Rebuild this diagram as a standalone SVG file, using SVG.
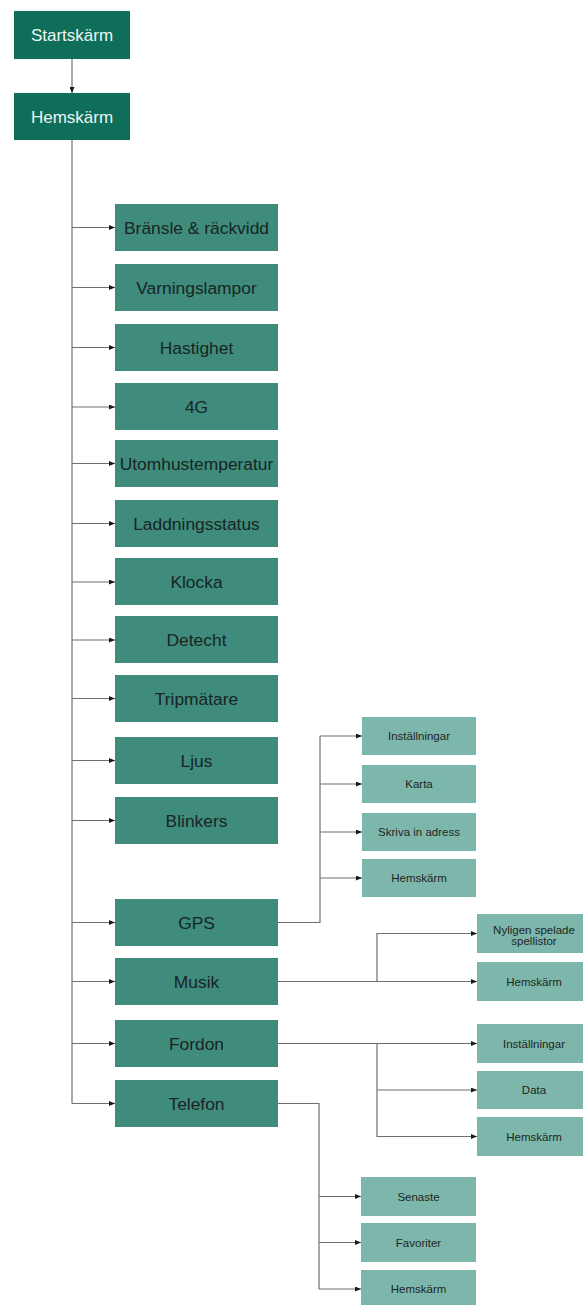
<svg xmlns="http://www.w3.org/2000/svg" width="583" height="1305" viewBox="0 0 583 1305">
<style>
.h{fill:#0f6e5a}
.m{fill:#3f8c7d}
.s{fill:#7db6ab}
.ht{font-family:"Liberation Sans",Arial,sans-serif;font-size:17px;fill:#eef5f2;text-anchor:middle}
.mt{font-family:"Liberation Sans",Arial,sans-serif;font-size:17.4px;fill:#182522;text-anchor:middle}
.st{font-family:"Liberation Sans",Arial,sans-serif;font-size:11.5px;fill:#1e2624;text-anchor:middle}
.c{fill:none;stroke:#6f6f6f;stroke-width:1.2}
</style>
<defs>
<marker id="a" markerUnits="userSpaceOnUse" markerWidth="7" markerHeight="5" refX="6" refY="2.5" orient="auto">
<path d="M0,0 L6,2.5 L0,5 z" fill="#1a1a1a"/>
</marker>
</defs>
<rect width="583" height="1305" fill="#ffffff"/>
<g id="connectors">
<path class="c" d="M72 59 V93" marker-end="url(#a)"/>
<path class="c" d="M72 140 V1103.5"/>
<path class="c" d="M72 227.5 H115" marker-end="url(#a)"/>
<path class="c" d="M72 287.5 H115" marker-end="url(#a)"/>
<path class="c" d="M72 347.5 H115" marker-end="url(#a)"/>
<path class="c" d="M72 407 H115" marker-end="url(#a)"/>
<path class="c" d="M72 463.5 H115" marker-end="url(#a)"/>
<path class="c" d="M72 523.5 H115" marker-end="url(#a)"/>
<path class="c" d="M72 582 H115" marker-end="url(#a)"/>
<path class="c" d="M72 640 H115" marker-end="url(#a)"/>
<path class="c" d="M72 698.5 H115" marker-end="url(#a)"/>
<path class="c" d="M72 760.5 H115" marker-end="url(#a)"/>
<path class="c" d="M72 820.5 H115" marker-end="url(#a)"/>
<path class="c" d="M72 922.5 H115" marker-end="url(#a)"/>
<path class="c" d="M72 981.5 H115" marker-end="url(#a)"/>
<path class="c" d="M72 1043.5 H115" marker-end="url(#a)"/>
<path class="c" d="M72 1103.5 H115" marker-end="url(#a)"/>
<path class="c" d="M278 922.5 H320 V736"/>
<path class="c" d="M320 736 H362" marker-end="url(#a)"/>
<path class="c" d="M320 784 H362" marker-end="url(#a)"/>
<path class="c" d="M320 832 H362" marker-end="url(#a)"/>
<path class="c" d="M320 878 H362" marker-end="url(#a)"/>
<path class="c" d="M278 981.5 H477" marker-end="url(#a)"/>
<path class="c" d="M377 981.5 V933.5 H477" marker-end="url(#a)"/>
<path class="c" d="M278 1043.5 H477" marker-end="url(#a)"/>
<path class="c" d="M377 1043.5 V1136.5 H477" marker-end="url(#a)"/>
<path class="c" d="M377 1090 H477" marker-end="url(#a)"/>
<path class="c" d="M278 1103.5 H319 V1289"/>
<path class="c" d="M319 1196.5 H361" marker-end="url(#a)"/>
<path class="c" d="M319 1242.5 H361" marker-end="url(#a)"/>
<path class="c" d="M319 1289 H361" marker-end="url(#a)"/>
</g>
<g id="startskarm"><rect class="h" x="14" y="11" width="116" height="48"/><text class="ht" x="72" y="41">Startskärm</text></g>
<g id="hemskarm"><rect class="h" x="14" y="93" width="116" height="47"/><text class="ht" x="72" y="122.5">Hemskärm</text></g>
<g id="bransle"><rect class="m" x="115" y="204" width="163" height="47"/><text class="mt" x="196.5" y="233.5">Bränsle &amp; räckvidd</text></g>
<g id="varningslampor"><rect class="m" x="115" y="264" width="163" height="47"/><text class="mt" x="196.5" y="293.5">Varningslampor</text></g>
<g id="hastighet"><rect class="m" x="115" y="324" width="163" height="47"/><text class="mt" x="196.5" y="353.5">Hastighet</text></g>
<g id="fourg"><rect class="m" x="115" y="383" width="163" height="47"/><text class="mt" x="196.5" y="412.5">4G</text></g>
<g id="utomhus"><rect class="m" x="115" y="440" width="163" height="47"/><text class="mt" x="196.5" y="469.5">Utomhustemperatur</text></g>
<g id="laddning"><rect class="m" x="115" y="500" width="163" height="47"/><text class="mt" x="196.5" y="529.5">Laddningsstatus</text></g>
<g id="klocka"><rect class="m" x="115" y="558" width="163" height="47"/><text class="mt" x="196.5" y="587.5">Klocka</text></g>
<g id="detecht"><rect class="m" x="115" y="616" width="163" height="47"/><text class="mt" x="196.5" y="645.5">Detecht</text></g>
<g id="tripmatare"><rect class="m" x="115" y="675" width="163" height="47"/><text class="mt" x="196.5" y="704.5">Tripmätare</text></g>
<g id="ljus"><rect class="m" x="115" y="737" width="163" height="47"/><text class="mt" x="196.5" y="766.5">Ljus</text></g>
<g id="blinkers"><rect class="m" x="115" y="797" width="163" height="47"/><text class="mt" x="196.5" y="826.5">Blinkers</text></g>
<g id="gps"><rect class="m" x="115" y="899" width="163" height="47"/><text class="mt" x="196.5" y="928.5">GPS</text></g>
<g id="musik"><rect class="m" x="115" y="958" width="163" height="47"/><text class="mt" x="196.5" y="987.5">Musik</text></g>
<g id="fordon"><rect class="m" x="115" y="1020" width="163" height="47"/><text class="mt" x="196.5" y="1049.5">Fordon</text></g>
<g id="telefon"><rect class="m" x="115" y="1080" width="163" height="47"/><text class="mt" x="196.5" y="1109.5">Telefon</text></g>
<g id="gps-installningar"><rect class="s" x="362" y="717" width="114" height="38"/><text class="st" x="419" y="740">Inställningar</text></g>
<g id="gps-karta"><rect class="s" x="362" y="765" width="114" height="38"/><text class="st" x="419" y="788">Karta</text></g>
<g id="gps-adress"><rect class="s" x="362" y="813" width="114" height="38"/><text class="st" x="419" y="836">Skriva in adress</text></g>
<g id="gps-hemskarm"><rect class="s" x="362" y="859" width="114" height="38"/><text class="st" x="419" y="882">Hemskärm</text></g>
<g id="musik-nyligen"><rect class="s" x="477" y="914" width="114" height="39"/><text class="st" x="534" y="933.5">Nyligen spelade</text><text class="st" x="534" y="945">spellistor</text></g>
<g id="musik-hemskarm"><rect class="s" x="477" y="962" width="114" height="39"/><text class="st" x="534" y="985.5">Hemskärm</text></g>
<g id="fordon-installningar"><rect class="s" x="477" y="1024" width="114" height="39"/><text class="st" x="534" y="1047.5">Inställningar</text></g>
<g id="fordon-data"><rect class="s" x="477" y="1071" width="114" height="38"/><text class="st" x="534" y="1094">Data</text></g>
<g id="fordon-hemskarm"><rect class="s" x="477" y="1117" width="114" height="39"/><text class="st" x="534" y="1140.5">Hemskärm</text></g>
<g id="telefon-senaste"><rect class="s" x="361" y="1177" width="115" height="39"/><text class="st" x="418.5" y="1200.5">Senaste</text></g>
<g id="telefon-favoriter"><rect class="s" x="361" y="1223" width="115" height="39"/><text class="st" x="418.5" y="1246.5">Favoriter</text></g>
<g id="telefon-hemskarm"><rect class="s" x="361" y="1270" width="115" height="39"/><text class="st" x="418.5" y="1293">Hemskärm</text></g>
</svg>
